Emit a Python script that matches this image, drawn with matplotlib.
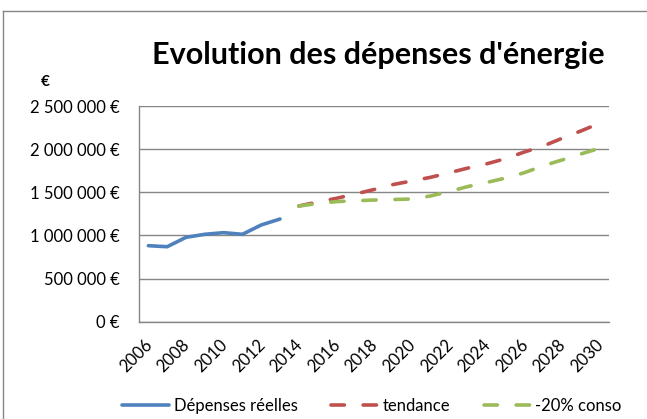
import matplotlib
matplotlib.use("Agg")
import matplotlib.pyplot as plt
import matplotlib.transforms as mtransforms
from matplotlib.lines import Line2D
from matplotlib.ticker import FuncFormatter

# data
years_reel = [2006, 2007, 2008, 2009, 2010, 2011, 2012, 2013]
depenses_reelles = [881000, 869000, 978000, 1013000, 1032000, 1013000, 1121000, 1190000]

years_proj = list(range(2014, 2031))
tendance = [1341000, 1387000, 1430000, 1480000, 1532000, 1589000, 1631000, 1673000,
            1726000, 1781000, 1830000, 1890000, 1967000, 2036000, 2125000, 2210000, 2300000]
conso_20 = [1341000, 1370000, 1392000, 1402000, 1410000, 1416000, 1422000, 1457000,
            1509000, 1567000, 1614000, 1665000, 1727000, 1808000, 1874000, 1944000, 2010000]

x_ticks = list(range(2006, 2031, 2))
y_ticks = [0, 500000, 1000000, 1500000, 2000000, 2500000]

plt.rcParams['font.family'] = ['Lato', 'DejaVu Sans']

fig = plt.figure(figsize=(6.47, 4.19), dpi=100)
ax = fig.add_axes([139/647, 1-321.7/419, 470/647, 215.7/419])

blue = '#4F81BD'
red = '#C0504D'
green = '#9BBB59'

ax.plot(years_reel, depenses_reelles, color=blue, lw=2.6, solid_capstyle='round',
        solid_joinstyle='round', label='Dépenses réelles')
ax.plot(years_proj, tendance, color=red, lw=2.6, dashes=(3.7, 5.2),
        dash_capstyle='round', label='tendance')
ax.plot(years_proj, conso_20, color=green, lw=2.6, dashes=(3.7, 5.2),
        dash_capstyle='round', label='-20% conso')

ax.set_xlim(2005.5, 2030.5)
ax.set_ylim(0, 2500000)

def euro(v, pos):
    if v == 0:
        return '0 €'
    s = f'{int(v):,}'.replace(',', ' ')
    return s + ' €'

ax.set_yticks(y_ticks)
ax.yaxis.set_major_formatter(FuncFormatter(euro))
ax.set_xticks(x_ticks)
ax.set_xticklabels([str(y) for y in x_ticks])

ax.tick_params(axis='y', length=0, pad=14, labelsize=12, colors='#000000')
ax.tick_params(axis='x', length=0, pad=11, labelsize=12)
offset = mtransforms.ScaledTranslation(7/100, 0, fig.dpi_scale_trans)
for lab in ax.get_xticklabels():
    lab.set_rotation(45)
    lab.set_ha('right')
    lab.set_va('top')
    lab.set_transform(lab.get_transform() + offset)

ax.grid(axis='y', color='#868686', lw=1)
ax.set_axisbelow(True)
for side in ['top', 'right']:
    ax.spines[side].set_visible(False)
for side in ['left', 'bottom']:
    ax.spines[side].set_color('#868686')
    ax.spines[side].set_linewidth(1)

fig.text(378/647, 1-55/419, "Evolution des dépenses d'énergie", ha='center', va='center',
         fontsize=22, fontweight='bold')
fig.text(45/647, 1-82/419, '€', ha='center', va='center', fontsize=11, fontweight='bold')

leg = fig.legend(loc='center', bbox_to_anchor=(372/647, 1-406/419), ncol=3, frameon=False,
                 fontsize=12, handlelength=2.8, columnspacing=2.0, handletextpad=0.3)

# chart area frame (top and left visible)
fig.add_artist(Line2D([3/647, 1], [1-11.5/419, 1-11.5/419], color='#868686', lw=1,
                      transform=fig.transFigure))
fig.add_artist(Line2D([3/647, 3/647], [0, 1-11.5/419], color='#868686', lw=1,
                      transform=fig.transFigure))

fig.savefig('out.png', dpi=100)
